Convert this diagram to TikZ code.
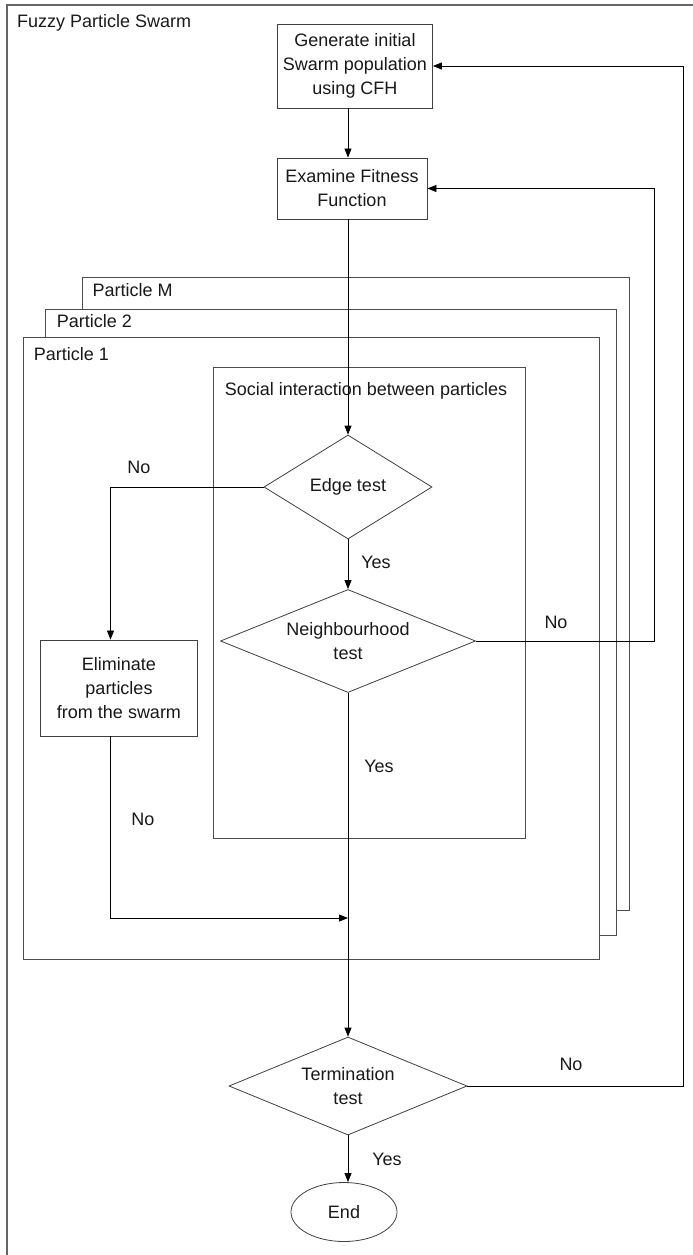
\documentclass[tikz,border=0pt]{standalone}
\usepackage{fontspec}
\setmainfont{Liberation Sans}
\usetikzlibrary{shapes.geometric,arrows.meta}

\begin{document}
\begin{tikzpicture}[x=1pt, y=-1pt,
    every node/.style={font=\fontsize{18}{24}\selectfont, text=black!90},
    box/.style={draw=black!75, line width=0.9pt, fill=white, align=center, inner sep=0pt},
    decision/.style={diamond, draw=black!75, line width=0.8pt, fill=white, align=center, inner sep=0pt},
    frame/.style={draw=black!70, line width=0.9pt, fill=white},
    lbl/.style={anchor=mid west, inner sep=0pt},
    flow/.style={draw=black, line width=0.8pt, -{Triangle[length=9pt,width=7pt]}}]

    % Page size
    \useasboundingbox (0,0) rectangle (693,1255);

    % Outer frame (only its top and left edge fall on the page)
    \draw[black!60, line width=1.5pt] (7,5) rectangle (730,1300);
    \node[lbl] (title) at (17,25) {Fuzzy Particle Swarm};

    % Particle frames, back to front
    \draw[frame] (82.6,277.7) rectangle (629.7,910.7);
    \node[lbl] (pM) at (92.4,294) {Particle M};
    \draw[frame] (45.5,309) rectangle (616,935.7);
    \node[lbl] (p2) at (56.6,325) {Particle 2};
    \draw[frame] (23,337.7) rectangle (599.6,959);
    \node[lbl] (p1) at (33.6,358) {Particle 1};

    % Social interaction box
    \draw[frame] (213,367) rectangle (525,838);
    \node (social) at (366,391) {Social interaction between particles};

    % Flow nodes
    \node[box, minimum width=155, minimum height=84] (gen) at (355,66) {Generate initial\\Swarm population\\using CFH};
    \node[box, minimum width=150, minimum height=61] (fit) at (352,188.5) {Examine Fitness\\Function};
    \node[decision, aspect=1.6, minimum width=168, minimum height=104] (edgetest) at (348,487) {Edge test};
    \node[decision, aspect=2.5, minimum width=255, minimum height=103] (neigh) at (348,641) {Neighbourhood\\test};
    \node[box, minimum width=157.5, minimum height=96] (elim) at (119,688) {Eliminate\\particles\\from the swarm};
    \node[decision, aspect=2.4, minimum width=238, minimum height=98] (term) at (348,1086) {Termination\\test};
    \node[ellipse, draw=black!75, line width=0.8pt, minimum width=106, minimum height=59, inner sep=0pt] (finish) at (344,1212) {End};

    % Turning points
    \coordinate (drop) at (110.5,487);
    \coordinate (join) at (348,918);
    \coordinate (loopfit) at (654.5,641);
    \coordinate (loopgen) at (683.5,1086);

    % Connectors
    \draw[flow] (gen.south -| edgetest) -- (fit.north -| edgetest);
    \draw[flow] (fit.south -| edgetest) -- (edgetest.north);
    \draw[flow] (edgetest.west) -- (drop) -- (drop |- elim.north);
    \draw[flow] (edgetest.south) -- (neigh.north);
    \draw[flow] (neigh.east) -- (loopfit) |- (fit.east);
    \draw[flow] (neigh.south) -- (term.north);
    \draw[flow] (drop |- elim.south) |- (join);
    \draw[flow] (term.east) -- (loopgen) |- (gen.east);
    \draw[flow] (term.south) -- (term.south |- finish.north);

    % Yes / No labels
    \node (no1) at (139,467) {No};
    \node (yes1) at (376,562) {Yes};
    \node (no2) at (556,622) {No};
    \node (yes2) at (379,766) {Yes};
    \node (no3) at (143,819) {No};
    \node (no4) at (571,1064) {No};
    \node (yes3) at (387,1159) {Yes};

\end{tikzpicture}
\end{document}
